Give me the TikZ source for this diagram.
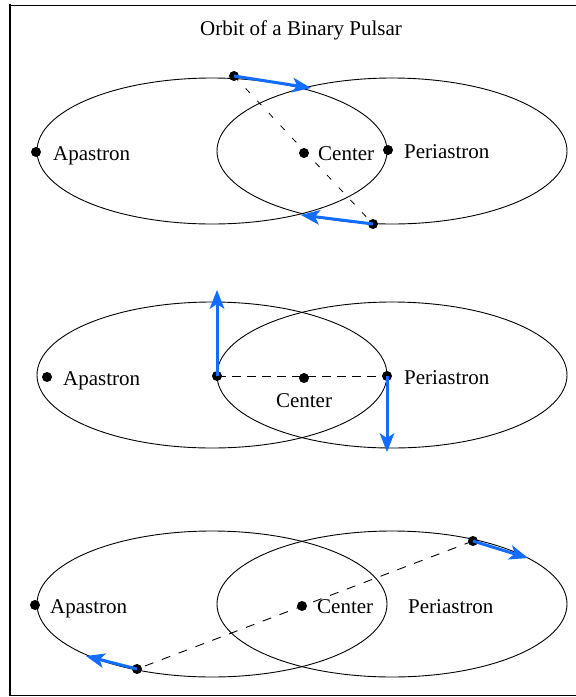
\documentclass[tikz,border=0pt]{standalone}
\usepackage{fontspec}
\setmainfont{Liberation Serif}
\usetikzlibrary{calc}
\definecolor{vblue}{RGB}{17,108,255}
\newcommand{\velarrow}[2]{%
  \draw[vel] (#1) -- ($(#2)!14pt!(#1)$);
  \coordinate (hb) at ($(#2)!19pt!(#1)$);
  \fill[vblue] (#2) -- ($(hb)!7.5pt!90:(#2)$) -- ($(#2)!14pt!(#1)$) -- ($(hb)!7.5pt!-90:(#2)$) -- cycle;
}
\begin{document}
\begin{tikzpicture}[x=1pt,y=-1pt,
  orbit/.style={draw=black,line width=0.9pt},
  dot/.style={circle,fill=black,inner sep=0pt,minimum size=10pt},
  vel/.style={draw=vblue,line width=3pt},
  lbl/.style={font=\fontsize{21}{25}\selectfont,inner sep=0pt}]
\useasboundingbox (0,0) rectangle (576,697);
\fill[white] (0,0) rectangle (576,697);
% frame
\draw[line width=1pt] (9,5) -- (576,5);
\draw[line width=2.8pt] (10,4) -- (10,696);
\draw[line width=1.5pt] (9,695.5) -- (576,695.5);
% title
\node[lbl,anchor=base] (title) at (301,35) {Orbit of a Binary Pulsar};

% ---------- panel 1 ----------
\draw[orbit] (212,151) ellipse [x radius=175, y radius=73];
\draw[orbit] (392,151) ellipse [x radius=175, y radius=73];
\node[dot] (apoA) at (36,152) {};
\node[dot] (periA) at (388,150) {};
\node[dot] (cenA) at (304,153) {};
\node[dot] (s1A) at (234,76) {};
\node[dot] (s2A) at (373,224) {};
\node[lbl,anchor=base west] (tapoA) at (53,160) {Apastron};
\node[lbl,anchor=base west] (tcenA) at (318,160) {Center};
\node[lbl,anchor=base west] (tperiA) at (404,158) {Periastron};
\draw[dash pattern=on 6pt off 11pt,line width=0.8pt] (s1A.center) -- (s2A.center);
\coordinate (v1A) at (311,88);
\coordinate (v2A) at (301,215);
\velarrow{s1A.center}{v1A}
\velarrow{s2A.center}{v2A}

% ---------- panel 2 ----------
\draw[orbit] (212,375) ellipse [x radius=175, y radius=73];
\draw[orbit] (392,375) ellipse [x radius=175, y radius=73];
\node[dot] (apoB) at (47,377) {};
\node[dot] (s1B) at (217,376) {};
\node[dot] (cenB) at (304,378) {};
\node[dot] (s2B) at (387,376) {};
\node[lbl,anchor=base west] (tapoB) at (63,385) {Apastron};
\node[lbl,anchor=base west] (tperiB) at (404,384) {Periastron};
\node[lbl,anchor=base] (tcenB) at (304,407) {Center};
\draw[dash pattern=on 9pt off 6pt,line width=0.9pt] (s1B.center) -- (s2B.center);
\coordinate (v1B) at (217,290);
\coordinate (v2B) at (387,452);
\velarrow{s1B.center}{v1B}
\velarrow{s2B.center}{v2B}

% ---------- panel 3 ----------
\draw[orbit] (212,604) ellipse [x radius=175, y radius=73];
\draw[orbit] (392,604) ellipse [x radius=175, y radius=73];
\node[dot] (apoC) at (35,605) {};
\node[dot] (cenC) at (302,606) {};
\node[dot] (s1C) at (473,541) {};
\node[dot] (s2C) at (137,669) {};
\node[lbl,anchor=base west] (tapoC) at (50,613) {Apastron};
\node[lbl,anchor=base west] (tcenC) at (317,613) {Center};
\node[lbl,anchor=base west] (tperiC) at (408,613) {Periastron};
\draw[dash pattern=on 9pt off 9pt,line width=0.9pt] (s1C.center) -- (s2C.center);
\coordinate (v1C) at (528,558);
\coordinate (v2C) at (86,656);
\velarrow{s1C.center}{v1C}
\velarrow{s2C.center}{v2C}
\end{tikzpicture}
\end{document}
